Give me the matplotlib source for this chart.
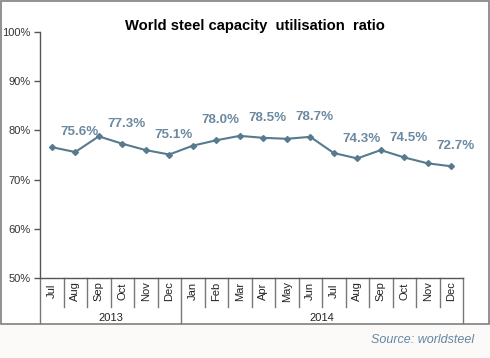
import numpy as np
import matplotlib.pyplot as plt
from matplotlib.patches import Rectangle
import matplotlib.transforms as mtransforms

plt.rcParams['font.family'] = ['Liberation Sans', 'DejaVu Sans']

months = ['Jul', 'Aug', 'Sep', 'Oct', 'Nov', 'Dec',
          'Jan', 'Feb', 'Mar', 'Apr', 'May', 'Jun',
          'Jul', 'Aug', 'Sep', 'Oct', 'Nov', 'Dec']
years = ['2013', '2014']
year_counts = [6, 12]
utilisation = [76.6, 75.6, 78.8, 77.3, 76.0, 75.1, 76.9, 78.0, 78.9,
               78.5, 78.3, 78.7, 75.4, 74.3, 76.0, 74.5, 73.3, 72.7]
labelled = [1, 3, 5, 7, 9, 11, 13, 15, 17]

W, H = 490, 358
line_c = '#587a8f'

fig = plt.figure(figsize=(W / 100, H / 100), dpi=100)
fig.patch.set_facecolor('#fcf9f9')

# chart frame
fig.patches.append(Rectangle((0.5 / W, 1 - 324 / H), 488 / W, 323.5 / H,
                             transform=fig.transFigure, facecolor='white',
                             edgecolor='#7f7f7f', lw=1.2, zorder=-5))

x0, x1, ytop, ybot = 40, 463, 32.3, 277.7
ax = fig.add_axes([x0 / W, 1 - ybot / H, (x1 - x0) / W, (ybot - ytop) / H])
ax.set_facecolor('none')
ax.set_zorder(2)

x = np.arange(len(months))
ax.plot(x, utilisation, color=line_c, lw=1.5, marker='D', ms=3, zorder=3)
for i in labelled:
    ax.annotate(f'{utilisation[i]:.1f}%', (x[i], utilisation[i]),
                xytext=(3, 10), textcoords='offset points', ha='center',
                va='bottom', fontsize=9.6, fontweight='bold', color='#6a89a0')

ax.set_xlim(-0.5, len(months) - 0.5)
ax.set_ylim(50, 100)
ax.set_yticks(np.arange(50, 101, 10))
ax.set_yticklabels([f'{v}%' for v in range(50, 101, 10)], fontsize=8, color='#333333')
ax.tick_params(axis='y', length=4, width=1, color='#555555', pad=3)
ax.set_xticks([])
for s in ['top', 'right']:
    ax.spines[s].set_visible(False)
for s in ['left', 'bottom']:
    ax.spines[s].set_color('#555555')
    ax.spines[s].set_linewidth(1)

# multi-level category axis
axh = ybot - ytop
tr = mtransforms.blended_transform_factory(ax.transData, ax.transAxes)
short = -29 / axh
long_ = -45.5 / axh
bounds = np.cumsum([0] + year_counts) - 0.5
for k in range(1, len(months)):
    b = k - 0.5
    if b in bounds:
        continue
    ax.plot([b, b], [0, short], transform=tr, color='#777777', lw=1, clip_on=False)
for b in bounds:
    ax.plot([b, b], [0, long_], transform=tr, color='#777777', lw=1, clip_on=False)
for i, m in enumerate(months):
    ax.text(i, -13.5 / axh, m, transform=tr, rotation=90, ha='center', va='center',
            fontsize=8, color='#222222')
for j, yname in enumerate(years):
    ax.text((bounds[j] + bounds[j + 1]) / 2, -40 / axh, yname, transform=tr,
            ha='center', va='center', fontsize=8, color='#222222')

fig.text(255 / W, 1 - 26 / H, 'World steel capacity  utilisation  ratio',
         ha='center', va='center', fontsize=10.6, fontweight='bold', color='black')
fig.text(474 / W, 1 - 340 / H, 'Source: worldsteel', ha='right', va='center',
         fontsize=9, style='italic', color='#6587a0')

fig.savefig('out.png', dpi=100, facecolor=fig.get_facecolor())
